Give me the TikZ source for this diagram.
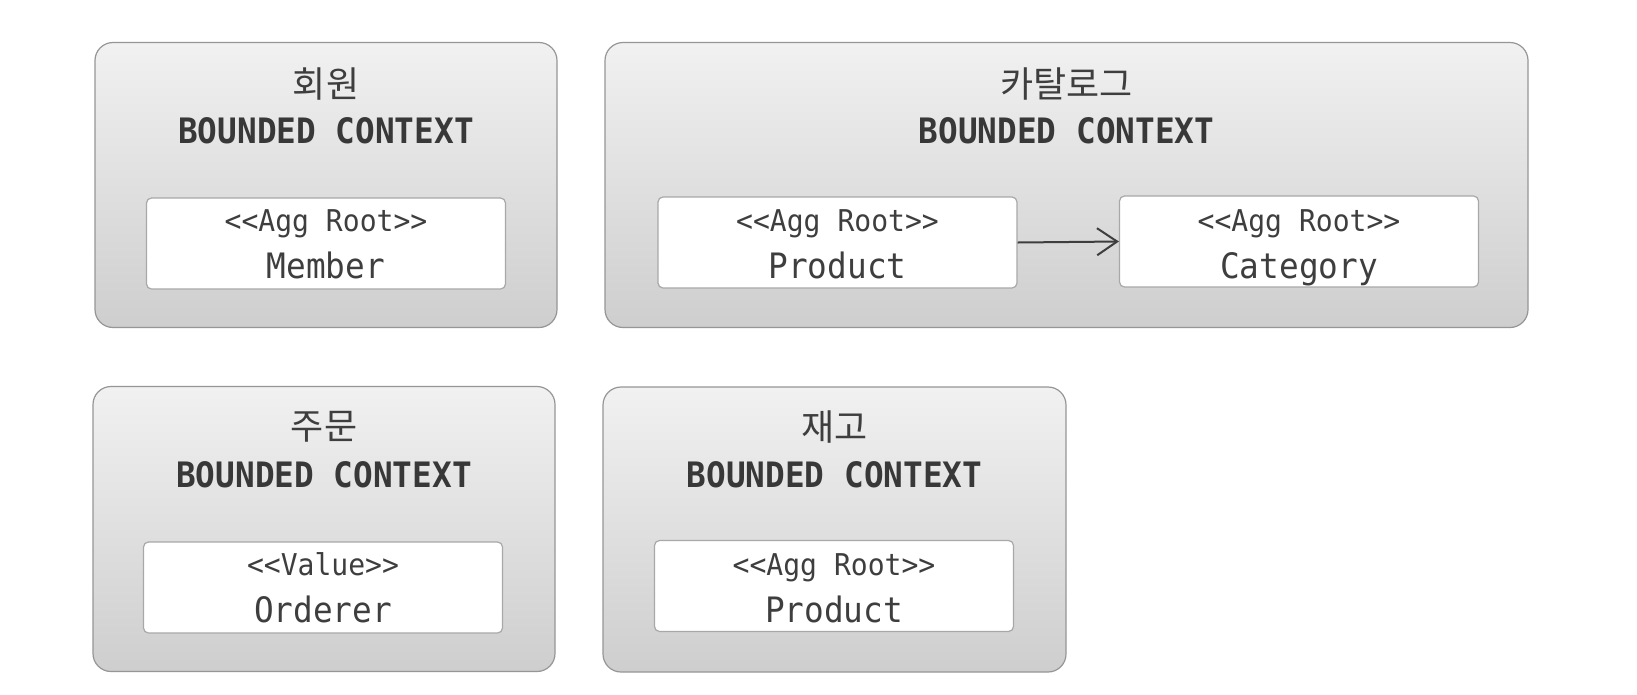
\documentclass[tikz,border=0pt]{standalone}
\usepackage{fontspec}
\usepackage{tikz}
\usetikzlibrary{arrows.meta}
\newfontfamily\kofont{Noto Sans CJK KR}
\newfontfamily\codefont[FakeStretch=0.935]{DejaVu Sans Mono}
\definecolor{ctxtop}{RGB}{241,241,241}
\definecolor{ctxbot}{RGB}{206,206,206}
\definecolor{ctxline}{RGB}{150,150,150}
\definecolor{aggline}{RGB}{168,168,168}
\definecolor{ink}{RGB}{62,62,62}
\newcommand{\stereo}[1]{<\kern0pt<#1>\kern0pt>}

\begin{document}
\begin{tikzpicture}[x=1pt, y=-1pt,
  context/.style={draw=ctxline, line width=1.2pt, rounded corners=18pt,
    top color=ctxtop, bottom color=ctxbot, minimum height=285pt, inner sep=0pt},
  agg/.style={draw=aggline, line width=1.2pt, fill=white, rounded corners=5pt,
    minimum width=359pt, minimum height=91pt, inner sep=0pt},
  ctxname/.style={font=\kofont\fontsize{36}{40}\selectfont, text=ink},
  ctxlabel/.style={font=\codefont\bfseries\fontsize{35}{40}\selectfont, text=ink!90!black, anchor=base},
  stype/.style={font=\codefont\fontsize{30}{34}\selectfont, text=ink, anchor=base},
  sname/.style={font=\codefont\fontsize{35}{40}\selectfont, text=ink, anchor=base},
  link/.style={draw=ink, line width=2pt, -{Straight Barb[length=20pt,width=27pt]}}]
\path[fill=white] (0,0) rectangle (1637,694);
% bounded contexts
\node[context, minimum width=462pt] (member) at (326,185) {};
\node[context, minimum width=923pt] (catalog) at (1066.5,185) {};
\node[context, minimum width=462pt] (order) at (324,529) {};
\node[context, minimum width=463pt] (stock) at (834.5,529.5) {};
\node[ctxname] (membertitle) at (326,84) {회원};
\node[ctxlabel] (memberbc) at (326,143) {BOUNDED CONTEXT};
\node[ctxname] (catalogtitle) at (1066.5,84) {카탈로그};
\node[ctxlabel] (catalogbc) at (1066.5,143) {BOUNDED CONTEXT};
\node[ctxname] (ordertitle) at (324,427) {주문};
\node[ctxlabel] (orderbc) at (324,487) {BOUNDED CONTEXT};
\node[ctxname] (stocktitle) at (834.5,427) {재고};
\node[ctxlabel] (stockbc) at (834.5,487) {BOUNDED CONTEXT};
% aggregates
\node[agg] (memberagg) at (326,243.5) {};
\node[stype] (membertype) at (326,231) {\stereo{Agg Root}};
\node[sname] (membername) at (326,278) {Member};
\node[agg] (productagg) at (837.5,242.5) {};
\node[stype] (producttype) at (837.5,231) {\stereo{Agg Root}};
\node[sname] (productname) at (837.5,278) {Product};
\node[agg] (categoryagg) at (1299,241.5) {};
\node[stype] (categorytype) at (1299,231) {\stereo{Agg Root}};
\node[sname] (categoryname) at (1299,278) {Category};
\node[agg] (ordererval) at (323,587.5) {};
\node[stype] (orderertype) at (323,575.5) {\stereo{Value}};
\node[sname] (orderername) at (323,622.5) {Orderer};
\node[agg] (stockagg) at (834,586) {};
\node[stype] (stocktype) at (834,575.5) {\stereo{Agg Root}};
\node[sname] (stockname) at (834,622.5) {Product};
\draw[link] (productagg.east) -- (categoryagg.west);
\end{tikzpicture}
\end{document}
